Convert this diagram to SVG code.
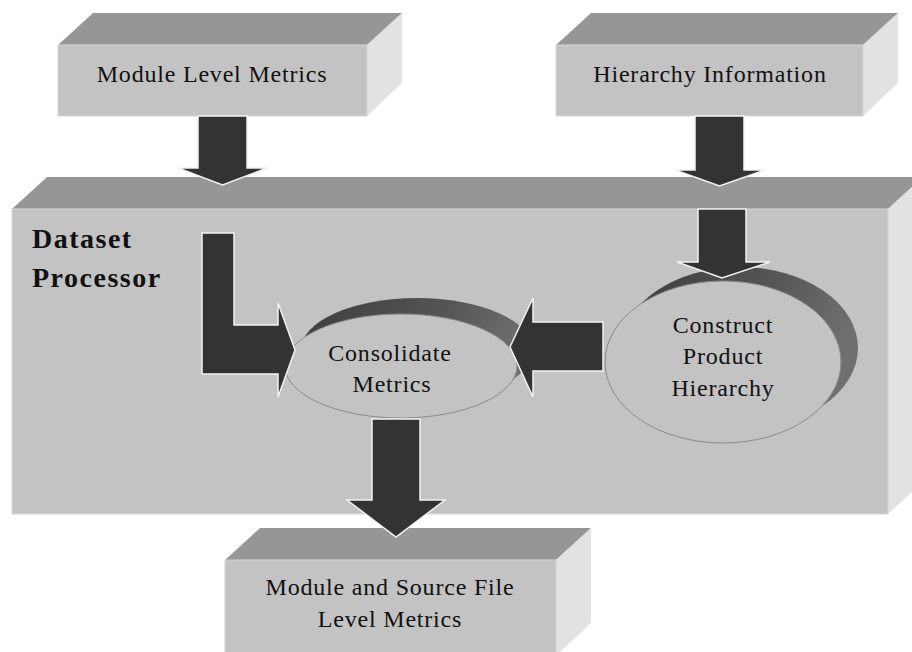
<svg xmlns="http://www.w3.org/2000/svg" width="912" height="652" viewBox="0 0 912 652">
  <defs>
    <linearGradient id="crescent" x1="0" y1="0" x2="1" y2="0.3">
      <stop offset="0" stop-color="#3c3c3c"/>
      <stop offset="0.6" stop-color="#555555"/>
      <stop offset="1" stop-color="#707070"/>
    </linearGradient>
    <style>
      .front { fill: #c3c3c3; stroke: #d6d6d6; stroke-width: 1; }
      .top { fill: #969696; }
      .side { fill: #e2e2e2; }
      .label { font-family: "Liberation Serif", "Times New Roman", serif; font-size: 24px; fill: #111; text-anchor: middle; letter-spacing: 0.8px; }
      .title { font-family: "Liberation Serif", "Times New Roman", serif; font-size: 28px; font-weight: bold; fill: #111; letter-spacing: 1.5px; }
      .arrow { fill: #333333; stroke: #f2f2f2; stroke-width: 1.5; stroke-linejoin: miter; }
      .disk-back { fill: url(#crescent); }
      .disk { fill: #c3c3c3; stroke: #8a8a8a; stroke-width: 1; }
    </style>
  </defs>

  <rect width="912" height="652" fill="#ffffff"/>

  <g id="node-module-level-metrics">
    <polygon class="top" points="58,45 93,13 402,13 367,45"/>
    <polygon class="side" points="367,45 402,13 402,83 367,116"/>
    <rect class="front" x="58" y="45" width="309" height="71"/>
    <text class="label" x="212" y="82">Module Level Metrics</text>
  </g>

  <g id="node-hierarchy-information">
    <polygon class="top" points="556,45 591,13 898,13 863,45"/>
    <polygon class="side" points="863,45 898,13 898,83 863,116"/>
    <rect class="front" x="556" y="45" width="307" height="71"/>
    <text class="label" x="710" y="82">Hierarchy Information</text>
  </g>

  <g id="node-dataset-processor">
    <polygon class="top" points="12,209 47,177 923,177 888,209"/>
    <polygon class="side" points="888,209 923,177 923,482 888,514"/>
    <rect class="front" x="12" y="209" width="876" height="305"/>
    <text class="title" x="32" y="248">Dataset</text>
    <text class="title" x="32" y="287">Processor</text>
  </g>

  <g id="node-module-source-file-level-metrics">
    <polygon class="top" points="225,560 260,528 591,528 556,560"/>
    <polygon class="side" points="556,560 591,528 591,623 560,652 556,652"/>
    <rect class="front" x="225" y="560" width="331" height="100"/>
    <text class="label" x="390" y="595">Module and Source File</text>
    <text class="label" x="390" y="627">Level Metrics</text>
  </g>

  <g id="node-construct-product-hierarchy">
    <ellipse class="disk-back" cx="740" cy="348" rx="118" ry="81"/>
    <ellipse class="disk" cx="723" cy="362" rx="118" ry="81"/>
    <text class="label" x="723" y="333">Construct</text>
    <text class="label" x="723" y="364">Product</text>
    <text class="label" x="723" y="396">Hierarchy</text>
  </g>

  <g id="node-consolidate-metrics">
    <ellipse class="disk-back" cx="417" cy="350" rx="116" ry="52"/>
    <ellipse class="disk" cx="401" cy="366" rx="116" ry="52"/>
    <text class="label" x="390" y="361">Consolidate</text>
    <text class="label" x="392" y="392">Metrics</text>
  </g>

  <g id="connectors">
    <polygon class="arrow" points="198,116 247,116 247,168 267,168 222.5,185 178,168 198,168"/>
    <polygon class="arrow" points="695,116 744,116 744,170 765,170 719.5,186 675,170 695,170"/>
    <polygon class="arrow" points="698,209 746,209 746,262 770,262 722,278 677,262 698,262"/>
    <polygon class="arrow" points="202,233 234,233 234,325 278,325 278,303 295,350 278,397 278,374 202,374"/>
    <polygon class="arrow" points="603,322 603,371 533,371 533,397 510,347 533,298 533,322"/>
    <polygon class="arrow" points="372,419 420,419 420,500 445,500 396,537 347,500 372,500"/>
  </g>
</svg>
